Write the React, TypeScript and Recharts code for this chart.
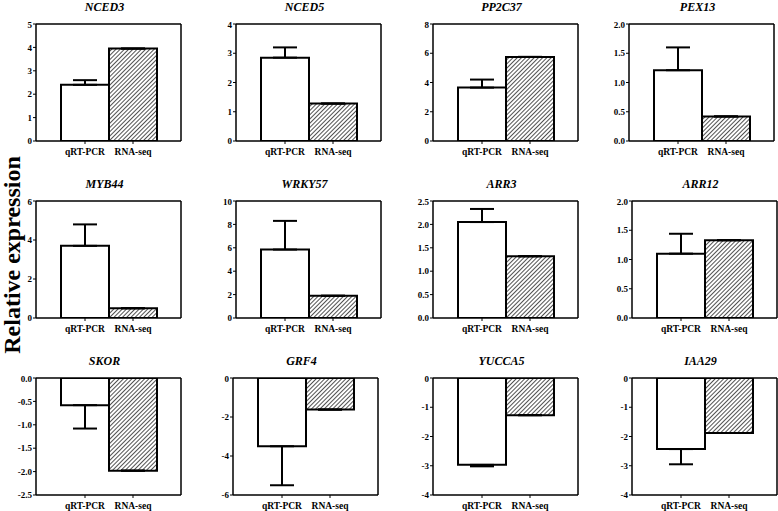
import React from 'react';
import { BarChart, Bar, XAxis, YAxis, Cell, ErrorBar, CartesianGrid } from 'recharts';

const genes = ['NCED3', 'NCED5', 'PP2C37', 'PEX13', 'MYB44', 'WRKY57', 'ARR3', 'ARR12', 'SKOR', 'GRF4', 'YUCCA5', 'IAA29'];
const categories = ['qRT-PCR', 'RNA-seq'];
const qrtValues = [2.4, 2.85, 3.65, 1.21, 3.7, 5.85, 2.05, 1.1, -0.58, -3.5, -2.97, -2.43];
const qrtErrors = [0.2, 0.35, 0.55, 0.39, 1.1, 2.45, 0.28, 0.34, 0.5, 2.0, 0.05, 0.52];
const rnaValues = [3.95, 1.28, 5.75, 0.42, 0.5, 1.9, 1.32, 1.33, -1.98, -1.62, -1.27, -1.88];
const yTicks = [
  [0, 1, 2, 3, 4, 5],
  [0, 1, 2, 3, 4],
  [0, 2, 4, 6, 8],
  [0, 0.5, 1, 1.5, 2],
  [0, 2, 4, 6],
  [0, 2, 4, 6, 8, 10],
  [0, 0.5, 1, 1.5, 2, 2.5],
  [0, 0.5, 1, 1.5, 2],
  [-2.5, -2, -1.5, -1, -0.5, 0],
  [-6, -4, -2, 0],
  [-4, -3, -2, -1, 0],
  [-4, -3, -2, -1, 0],
];
const tickDecimals = [0, 0, 0, 1, 0, 0, 1, 1, 1, 0, 0, 0];
const yLabel = 'Relative expression';

// layout (plot-box positions)
const boxLefts = [36, 236, 433, 629, 36, 236, 433, 632, 36, 233, 433, 632];
const boxTops = [24, 24, 24, 24, 201, 201, 201, 201, 378, 378, 378, 378];
const BOX_W = 145;
const BOX_H = 117;
const AX_W = 40;
const M_TOP = 4;
const M_RIGHT = 4;
const AX_H = 24;

const FONT = '"Liberation Serif", "Times New Roman", serif';

function Panel({ i }: { i: number }) {
  const q = qrtValues[i];
  const e = qrtErrors[i];
  const data = [
    { name: categories[0], value: q, err: q >= 0 ? [0, e] : [e, 0] },
    { name: categories[1], value: rnaValues[i], err: [0, 0] },
  ];
  const ticks = yTicks[i];
  const domain = [ticks[0], ticks[ticks.length - 1]];
  const pid = `hatch${i}`;
  const left = boxLefts[i] - AX_W;
  const top = boxTops[i] - M_TOP;
  const axisStyle = { stroke: '#000', strokeWidth: 1.5 };
  return (
    <>
      <div
        style={{
          position: 'absolute',
          left: boxLefts[i] + BOX_W / 2 - 4 - 100,
          top: boxTops[i] - 17 - 7,
          width: 200,
          textAlign: 'center',
          fontFamily: FONT,
          fontWeight: 'bold',
          fontStyle: 'italic',
          fontSize: 12,
          lineHeight: '14px',
          color: '#000',
        }}
      >
        {genes[i]}
      </div>
      <div style={{ position: 'absolute', left, top }}>
        <BarChart
          width={AX_W + BOX_W + M_RIGHT}
          height={M_TOP + BOX_H + AX_H}
          data={data}
          margin={{ top: M_TOP, right: M_RIGHT, bottom: 0, left: 0 }}
          barCategoryGap={0}
          barGap={0}
        >
          <defs>
            <pattern id={pid} width="3" height="3" patternUnits="userSpaceOnUse" patternTransform="rotate(45)">
              <rect width="3" height="3" fill="#ffffff" />
              <line x1="0" y1="0" x2="0" y2="3" stroke="#333" strokeWidth="1.7" />
            </pattern>
          </defs>
          <CartesianGrid
            horizontalPoints={[M_TOP]}
            verticalPoints={[AX_W + BOX_W]}
            stroke="#000"
            strokeWidth={1.5}
            fill="none"
          />
          <XAxis
            dataKey="name"
            padding={{ left: 25, right: 24 }}
            height={AX_H}
            tickSize={3}
            tickMargin={4}
            tick={{ fontFamily: FONT, fontWeight: 'bold', fontSize: 9.5, fill: '#000' }}
            tickLine={{ stroke: '#000', strokeWidth: 1 }}
            axisLine={axisStyle}
            interval={0}
          />
          <YAxis
            width={AX_W}
            domain={domain}
            ticks={ticks}
            type="number"
            allowDataOverflow
            tickSize={3}
            tickMargin={1}
            tickFormatter={(v: number) => v.toFixed(tickDecimals[i])}
            tick={{ fontFamily: FONT, fontWeight: 'bold', fontSize: 9, fill: '#000' }}
            tickLine={{ stroke: '#000', strokeWidth: 1 }}
            axisLine={axisStyle}
          />
          <Bar dataKey="value" isAnimationActive={false} stroke="#000" strokeWidth={2}>
            <Cell fill="#ffffff" />
            <Cell fill={`url(#${pid})`} />
            <ErrorBar dataKey="err" width={12} stroke="#000" strokeWidth={2} direction="y" />
          </Bar>
        </BarChart>
      </div>
    </>
  );
}

export default function App() {
  return (
    <div style={{ position: 'absolute', left: 0, top: 0, width: 778, height: 511, background: '#fff', overflow: 'hidden' }}>
      {genes.map((_, i) => (
        <Panel key={i} i={i} />
      ))}
      <div
        style={{
          position: 'absolute',
          left: 12 - 150,
          top: 255 - 15,
          width: 300,
          height: 30,
          lineHeight: '30px',
          textAlign: 'center',
          fontFamily: FONT,
          fontWeight: 'bold',
          fontSize: 24,
          color: '#000',
          transform: 'rotate(-90deg)',
        }}
      >
        {yLabel}
      </div>
    </div>
  );
}
